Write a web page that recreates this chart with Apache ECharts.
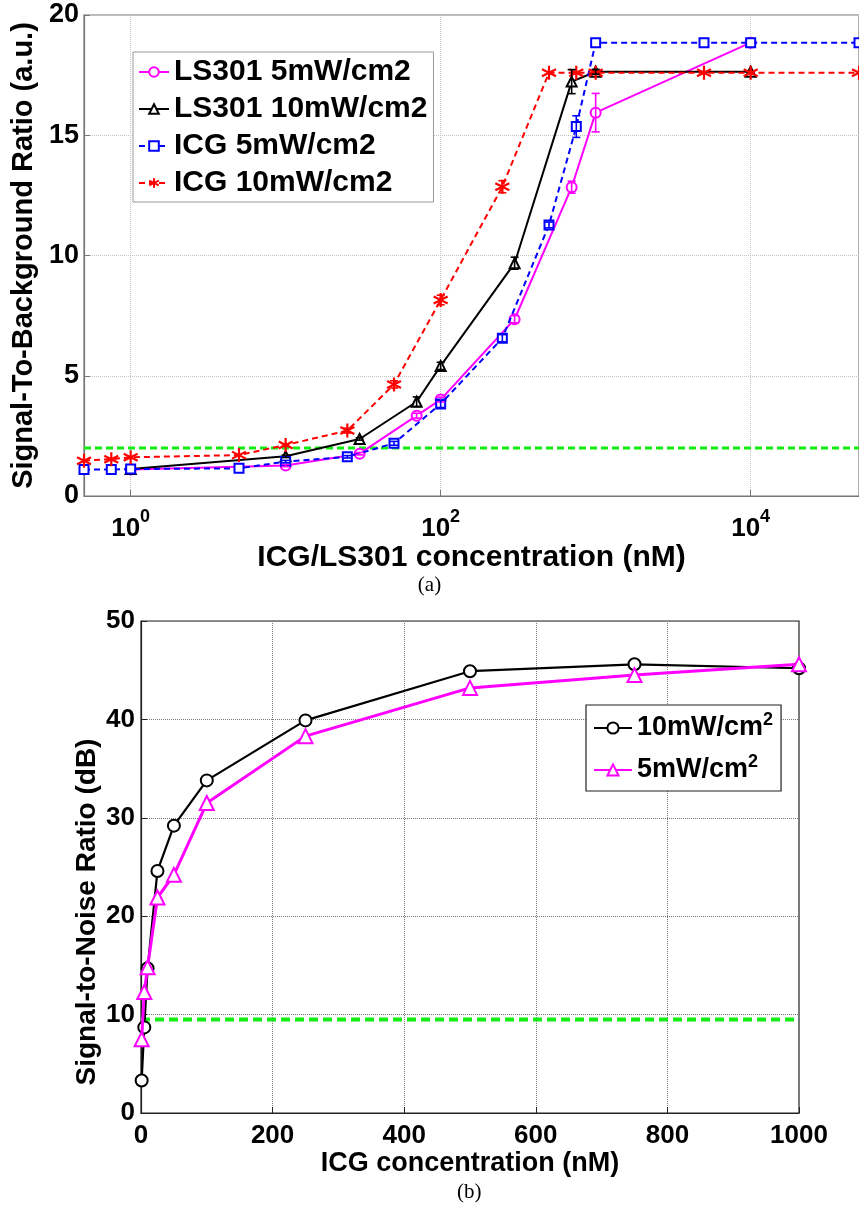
<!DOCTYPE html>
<html><head><meta charset="utf-8">
<script src="https://cdn.jsdelivr.net/npm/echarts@6/dist/echarts.min.js"></script>
<style>html,body{margin:0;padding:0;background:#fff}#c{width:859px;height:1210px}</style>
</head><body><div id="c"></div>
<script>
// ---------- Panel (a) data ----------
const icgConc = [0.5, 0.75, 1, 5, 10, 25, 50, 100, 250, 500, 750, 1000, 5000, 10000, 50000];
const icg5 = [1.10, 1.10, 1.12, 1.15, 1.43, 1.63, 2.19, 3.83, 6.56, 11.27, 15.36, 18.85, 18.85, 18.85, 18.85];
const icg5Err = [0, 0, 0, 0, 0.05, 0.05, 0.08, 0.15, 0.15, 0.12, 0.45, 0, 0, 0, 0];
const icg10 = [1.47, 1.53, 1.61, 1.70, 2.12, 2.72, 4.64, 8.15, 12.86, 17.6, 17.6, 17.6, 17.6, 17.6, 17.6];
const icg10Err = [0, 0, 0, 0, 0.05, 0.1, 0.15, 0.2, 0.25, 0, 0, 0, 0, 0, 0];
const lsConc = [1, 10, 30, 70, 100, 300, 700, 1000, 10000];
const ls5 = [1.10, 1.27, 1.76, 3.34, 4.01, 7.35, 12.84, 15.94, 18.85];
const ls5Err = [0, 0.05, 0.05, 0.1, 0.1, 0.15, 0.25, 0.8, 0];
const ls10 = [1.12, 1.65, 2.37, 3.92, 5.41, 9.68, 17.23, 17.64, 17.64];
const ls10Err = [0, 0.05, 0.05, 0.2, 0.15, 0.25, 0.5, 0.1, 0];
const sbrThreshold = 2;
const xRangeA = [0.5, 50000];
const xTickExpA = [0, 2, 4];
const yRangeA = [0, 20];
const yStepA = 5;
const namesA = ['LS301 5mW/cm2', 'LS301 10mW/cm2', 'ICG 5mW/cm2', 'ICG 10mW/cm2'];

// ---------- Panel (b) data ----------
const snrConc = [1, 5, 10, 25, 50, 100, 250, 500, 750, 1000];
const snr10 = [3.3, 8.7, 14.7, 24.6, 29.2, 33.8, 39.9, 44.9, 45.6, 45.2];
const snr5 = [7.5, 12.3, 14.8, 21.9, 24.2, 31.5, 38.3, 43.2, 44.5, 45.6];
const snrThreshold = 9.5;
const xRangeB = [0, 1000];
const xStepB = 200;
const yRangeB = [0, 50];
const yStepB = 10;
const namesB = ['10mW/cm{sup|2}', '5mW/cm{sup|2}'];

const FONT = 'Liberation Sans, Arial, Helvetica, sans-serif';
const lg = Math.log10;
const pts = (xs, ys, f) => xs.map((x, i) => [f ? f(x) : x, ys[i]]);
const errPts = (xs, ys, es, f) => xs.map((x, i) => [f ? f(x) : x, ys[i] - es[i], ys[i] + es[i]]).filter((d, i) => es[i] > 0);

function errRender(color) {
  return function (params, api) {
    const x = api.value(0), lo = api.value(1), hi = api.value(2);
    const a = api.coord([x, hi]), b = api.coord([x, lo]);
    const w = 4;
    const st = { stroke: color, lineWidth: 1.6 };
    return { type: 'group', children: [
      { type: 'line', shape: { x1: a[0], y1: a[1], x2: b[0], y2: b[1] }, style: st },
      { type: 'line', shape: { x1: a[0] - w, y1: a[1], x2: a[0] + w, y2: a[1] }, style: st },
      { type: 'line', shape: { x1: b[0] - w, y1: b[1], x2: b[0] + w, y2: b[1] }, style: st }
    ] };
  };
}
const STAR = 'path://M0,-1L0,1M-0.87,-0.5L0.87,0.5M-0.87,0.5L0.87,-0.5';

const gridColA = '#c4c4c4';
const axColA = '#777';
const gridColB = '#777';
const axColB = '#222';

const chart = echarts.init(document.getElementById('c'), null, { renderer: 'canvas' });
const option = {
  animation: false,
  backgroundColor: '#fff',
  textStyle: { fontFamily: FONT },
  grid: [
    { left: 84, top: 15, width: 775, height: 481, show: true, borderColor: axColA, borderWidth: 1.2, backgroundColor: 'transparent' },
    { left: 141, top: 621, width: 658, height: 492, show: true, borderColor: axColB, borderWidth: 1.2, backgroundColor: 'transparent' }
  ],
  xAxis: [
    {
      gridIndex: 0, type: 'value', min: lg(xRangeA[0]), max: lg(xRangeA[1]),
      axisLine: { show: true, onZero: false, lineStyle: { color: axColA, width: 1.2 } },
      axisTick: { show: true, inside: true, length: 6, customValues: xTickExpA, lineStyle: { color: axColA } },
      splitLine: { show: true, lineStyle: { color: gridColA, type: 'dotted', width: 1 } },
      axisLabel: {
        customValues: xTickExpA, margin: 12,
        formatter: v => '{b|10}{s|' + Math.round(v) + '}',
        rich: {
          b: { fontSize: 26, fontWeight: 'bold', color: '#000', fontFamily: FONT, lineHeight: 34, verticalAlign: 'bottom' },
          s: { fontSize: 18, fontWeight: 'bold', color: '#000', fontFamily: FONT, lineHeight: 18, verticalAlign: 'top' }
        }
      },
      name: 'ICG/LS301 concentration (nM)', nameLocation: 'middle', nameGap: 47,
      nameTextStyle: { fontSize: 30, fontWeight: 'bold', color: '#000', fontFamily: FONT }
    },
    {
      gridIndex: 1, type: 'value', min: xRangeB[0], max: xRangeB[1], interval: xStepB,
      axisLine: { show: true, onZero: false, lineStyle: { color: axColB, width: 1.2 } },
      axisTick: { show: true, inside: true, length: 6, lineStyle: { color: axColB } },
      splitLine: { show: true, lineStyle: { color: gridColB, type: 'dotted', width: 1 } },
      axisLabel: { fontSize: 26, fontWeight: 'bold', color: '#000', margin: 10, fontFamily: FONT, formatter: v => String(v) },
      name: 'ICG concentration (nM)', nameLocation: 'middle', nameGap: 36,
      nameTextStyle: { fontSize: 27, fontWeight: 'bold', color: '#000', fontFamily: FONT }
    }
  ],
  yAxis: [
    {
      gridIndex: 0, type: 'value', min: yRangeA[0], max: yRangeA[1], interval: yStepA,
      axisLine: { show: true, onZero: false, lineStyle: { color: axColA, width: 1.2 } },
      axisTick: { show: true, inside: true, length: 6, lineStyle: { color: axColA } },
      splitLine: { show: true, lineStyle: { color: gridColA, type: 'dotted', width: 1 } },
      axisLabel: { fontSize: 27, fontWeight: 'bold', color: '#000', margin: 5, fontFamily: FONT },
      name: 'Signal-To-Background Ratio (a.u.)', nameLocation: 'middle', nameGap: 40, nameRotate: 90,
      nameTextStyle: { fontSize: 29, fontWeight: 'bold', color: '#000', fontFamily: FONT }
    },
    {
      gridIndex: 1, type: 'value', min: yRangeB[0], max: yRangeB[1], interval: yStepB,
      axisLine: { show: true, onZero: false, lineStyle: { color: axColB, width: 1.2 } },
      axisTick: { show: true, inside: true, length: 6, lineStyle: { color: axColB } },
      splitLine: { show: true, lineStyle: { color: gridColB, type: 'dotted', width: 1 } },
      axisLabel: { fontSize: 26, fontWeight: 'bold', color: '#000', margin: 6, fontFamily: FONT }
    }
  ],
  legend: [
    {
      data: namesA, orient: 'vertical', left: 133, top: 52,
      backgroundColor: '#fff', borderColor: '#999', borderWidth: 1,
      padding: [5, 6, 4, 5], itemGap: 7, itemWidth: 30, itemHeight: 12,
      textStyle: { fontSize: 30, fontWeight: 'bold', color: '#000', fontFamily: FONT, lineHeight: 30 }
    },
    {
      data: namesB, orient: 'vertical', left: 586, top: 705,
      backgroundColor: '#fff', borderColor: '#222', borderWidth: 1.2,
      padding: [6, 8, 4, 7], itemGap: 8, itemWidth: 38, itemHeight: 14,
      formatter: n => n,
      textStyle: {
        fontSize: 27, fontWeight: 'bold', color: '#000', fontFamily: FONT, lineHeight: 34,
        rich: {
          sup: { fontSize: 18, fontWeight: 'bold', color: '#000', fontFamily: FONT, lineHeight: 18, verticalAlign: 'top' }
        }
      }
    }
  ],
  graphic: [
    { type: 'text', left: 'center', top: 575, style: { text: '(a)', font: '21px "Liberation Serif", "Times New Roman", serif', fill: '#000' } },
    { type: 'text', left: 457, top: 1182, style: { text: '(b)', font: '21px "Liberation Serif", "Times New Roman", serif', fill: '#000' } },
    { type: 'text', x: 87, y: 912, rotation: Math.PI / 2, style: { text: 'Signal-to-Noise Ratio (dB)', font: 'bold 28px ' + FONT, fill: '#000', align: 'center', verticalAlign: 'middle' } }
  ],
  series: [
    // Panel (a)
    {
      name: 'sbrThr', type: 'line', xAxisIndex: 0, yAxisIndex: 0, symbol: 'none', silent: true,
      data: [[lg(xRangeA[0]), sbrThreshold], [lg(xRangeA[1]), sbrThreshold]],
      lineStyle: { color: '#11ee11', width: 3, type: [7, 4] }, z: 1
    },
    {
      name: namesA[0], type: 'line', xAxisIndex: 0, yAxisIndex: 0,
      data: pts(lsConc, ls5, lg), symbol: 'emptyCircle', symbolSize: 10,
      lineStyle: { color: '#ff00ff', width: 2 }, itemStyle: { color: '#ff00ff', borderWidth: 1.6 }, z: 3
    },
    {
      name: namesA[1], type: 'line', xAxisIndex: 0, yAxisIndex: 0,
      data: pts(lsConc, ls10, lg), symbol: 'emptyTriangle', symbolSize: 10,
      lineStyle: { color: '#000', width: 2 }, itemStyle: { color: '#000', borderWidth: 1.6 }, z: 3
    },
    {
      name: namesA[2], type: 'line', xAxisIndex: 0, yAxisIndex: 0,
      data: pts(icgConc, icg5, lg), symbol: 'emptyRect', symbolSize: 9,
      lineStyle: { color: '#0000ff', width: 2, type: [6, 4] }, itemStyle: { color: '#0000ff', borderWidth: 1.6 }, z: 4
    },
    {
      name: namesA[3], type: 'line', xAxisIndex: 0, yAxisIndex: 0,
      data: pts(icgConc, icg10, lg), symbol: STAR, symbolSize: 14,
      lineStyle: { color: '#ff0000', width: 2, type: [6, 4] }, itemStyle: { color: '#ff0000', borderColor: '#ff0000', borderWidth: 2.2 }, z: 4
    },
    { name: 'e1', type: 'custom', xAxisIndex: 0, yAxisIndex: 0, renderItem: errRender('#ff00ff'), data: errPts(lsConc, ls5, ls5Err, lg), encode: { x: 0, y: [1, 2] }, z: 5, silent: true },
    { name: 'e2', type: 'custom', xAxisIndex: 0, yAxisIndex: 0, renderItem: errRender('#000'), data: errPts(lsConc, ls10, ls10Err, lg), encode: { x: 0, y: [1, 2] }, z: 5, silent: true },
    { name: 'e3', type: 'custom', xAxisIndex: 0, yAxisIndex: 0, renderItem: errRender('#0000ff'), data: errPts(icgConc, icg5, icg5Err, lg), encode: { x: 0, y: [1, 2] }, z: 5, silent: true },
    { name: 'e4', type: 'custom', xAxisIndex: 0, yAxisIndex: 0, renderItem: errRender('#ff0000'), data: errPts(icgConc, icg10, icg10Err, lg), encode: { x: 0, y: [1, 2] }, z: 5, silent: true },
    // Panel (b)
    {
      name: 'snrThr', type: 'line', xAxisIndex: 1, yAxisIndex: 1, symbol: 'none', silent: true,
      data: [[xRangeB[0], snrThreshold], [xRangeB[1], snrThreshold]],
      lineStyle: { color: '#11ee11', width: 4, type: [9, 5] }, z: 1
    },
    {
      name: namesB[0], type: 'line', xAxisIndex: 1, yAxisIndex: 1,
      data: pts(snrConc, snr10), symbol: 'emptyCircle', symbolSize: 12,
      lineStyle: { color: '#000', width: 2.2 }, itemStyle: { color: '#000', borderWidth: 2 }, z: 3
    },
    {
      name: namesB[1], type: 'line', xAxisIndex: 1, yAxisIndex: 1,
      data: pts(snrConc, snr5), symbol: 'emptyTriangle', symbolSize: 14,
      lineStyle: { color: '#ff00ff', width: 3 }, itemStyle: { color: '#ff00ff', borderWidth: 2 }, z: 4
    }
  ]
};
chart.setOption(option);
</script>
</body></html>
